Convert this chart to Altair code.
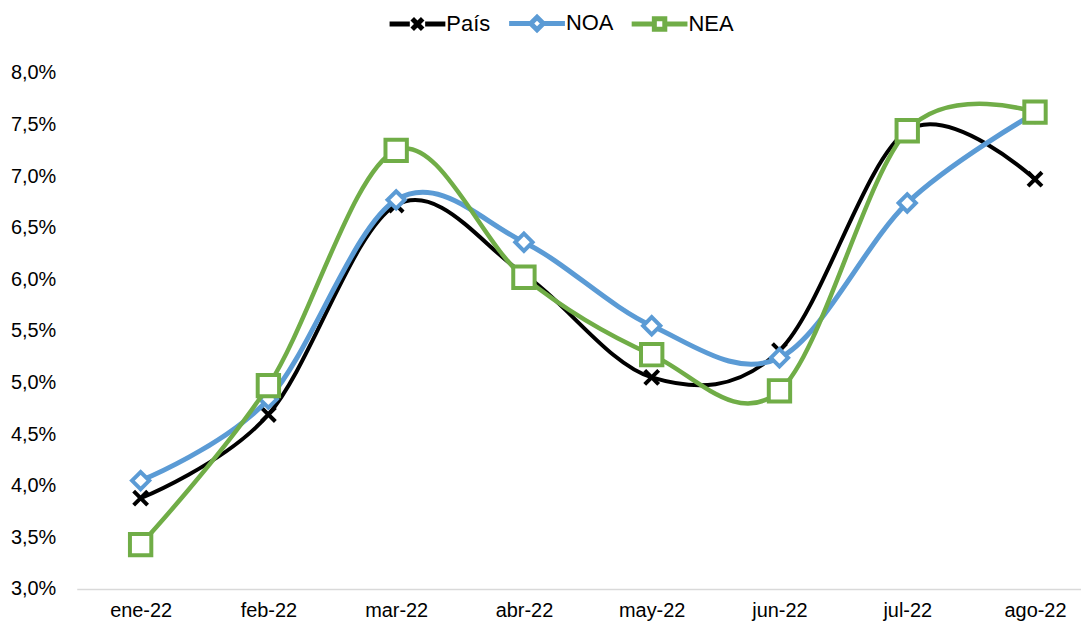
import altair as alt
import pandas as pd

meses = ["ene-22", "feb-22", "mar-22", "abr-22", "may-22", "jun-22", "jul-22", "ago-22"]
pais = [3.88, 4.69, 6.72, 6.05, 5.05, 5.31, 7.44, 6.97]
noa = [4.05, 4.84, 6.77, 6.36, 5.55, 5.24, 6.74, 7.61]
nea = [3.43, 4.97, 7.25, 6.02, 5.27, 4.92, 7.44, 7.62]
series = ["País", "NOA", "NEA"]
colores = ["#000000", "#5B9BD5", "#70AD47"]
y_ticks = [3.0, 3.5, 4.0, 4.5, 5.0, 5.5, 6.0, 6.5, 7.0, 7.5, 8.0]

valores = {"País": pais, "NOA": noa, "NEA": nea}
rows = []
for s in series:
    for i, m in enumerate(meses):
        rows.append({"idx": i, "mes": m, "serie": s, "valor": valores[s][i]})
df = pd.DataFrame(rows)

FONT = "Liberation Sans"

month_arr = "[" + ",".join("'" + m + "'" for m in meses) + "]"
x_enc = alt.X(
    "idx:Q",
    scale=alt.Scale(domain=[-0.5, 7.36], nice=False, zero=False),
    axis=alt.Axis(
        values=list(range(len(meses))),
        labelExpr=month_arr + "[datum.value]",
        title=None, ticks=False, grid=False, domain=True,
        domainColor="#D9D9D9", domainWidth=1.5,
        labelFont=FONT, labelFontSize=20, labelColor="#000000",
        labelPadding=12, labelOverlap=False, labelFlush=False,
    ),
)
y_enc = alt.Y(
    "valor:Q",
    scale=alt.Scale(domain=[3, 8], nice=False, zero=False),
    axis=alt.Axis(
        values=y_ticks,
        labelExpr="replace(format(datum.value, '.1f'), '.', ',') + '%'",
        title=None, ticks=False, grid=False, domain=False,
        labelFont=FONT, labelFontSize=20, labelColor="#000000",
        labelPadding=21,
    ),
)

# legend symbol paths (units of 7px): line + marker
p_pais = "M-4,0H-1.1M1.1,0H4M-0.75,-0.75L0.75,0.75M-0.75,0.75L0.75,-0.75"
p_noa = "M-4,0H-0.95M0.95,0H4M0,-0.9L0.9,0L0,0.9L-0.9,0Z"
p_nea = "M-4,0H-0.75M0.75,0H4M-0.75,-0.75H0.75V0.75H-0.75Z"
shape_expr = ("['" + p_pais + "','" + p_noa + "','" + p_nea + "'][indexof(['País','NOA','NEA'], datum.value)]")

legend = alt.Legend(
    title=None, orient="none", legendX=331, legendY=-61, direction="horizontal",
    labelFont=FONT, labelFontSize=22, labelColor="#000000",
    symbolSize=196, labelOffset=18, columnPadding=8, padding=0,
    symbolType={"expr": shape_expr}, symbolFillColor="white", symbolStrokeWidth=5,
    symbolOpacity=1,
)
color_enc = alt.Color("serie:N", scale=alt.Scale(domain=series, range=colores), legend=legend)

xpath = "M-1,-1L1,1M-1,1L1,-1"
marker = {
    "País": dict(shape=xpath, size=196, sw=4),
    "NOA": dict(shape="diamond", size=300, sw=4),
    "NEA": dict(shape="square", size=460, sw=4),
}
line_w = {"País": 4, "NOA": 5, "NEA": 4.5}

base = alt.Chart(df)
layers = []
for s, c in zip(series, colores):
    sub = base.transform_filter(alt.datum.serie == s)
    ln = sub.mark_line(interpolate="cardinal", tension=0, strokeWidth=line_w[s]).encode(
        x=x_enc, y=y_enc, color=color_enc
    )
    m = marker[s]
    pt = sub.mark_point(
        shape=m["shape"], size=m["size"], strokeWidth=m["sw"], fill="white",
        filled=False, stroke=c, opacity=1, fillOpacity=1,
    ).encode(x=x_enc, y=y_enc)
    layers += [ln, pt]

chart = alt.layer(*layers).properties(
    width=1008, height=518,
    padding={"left": 2, "top": 3, "right": 0, "bottom": 5},
    background="white",
).configure_view(stroke=None)

chart.save("out.html", embed_options={"renderer": "svg", "actions": False})
